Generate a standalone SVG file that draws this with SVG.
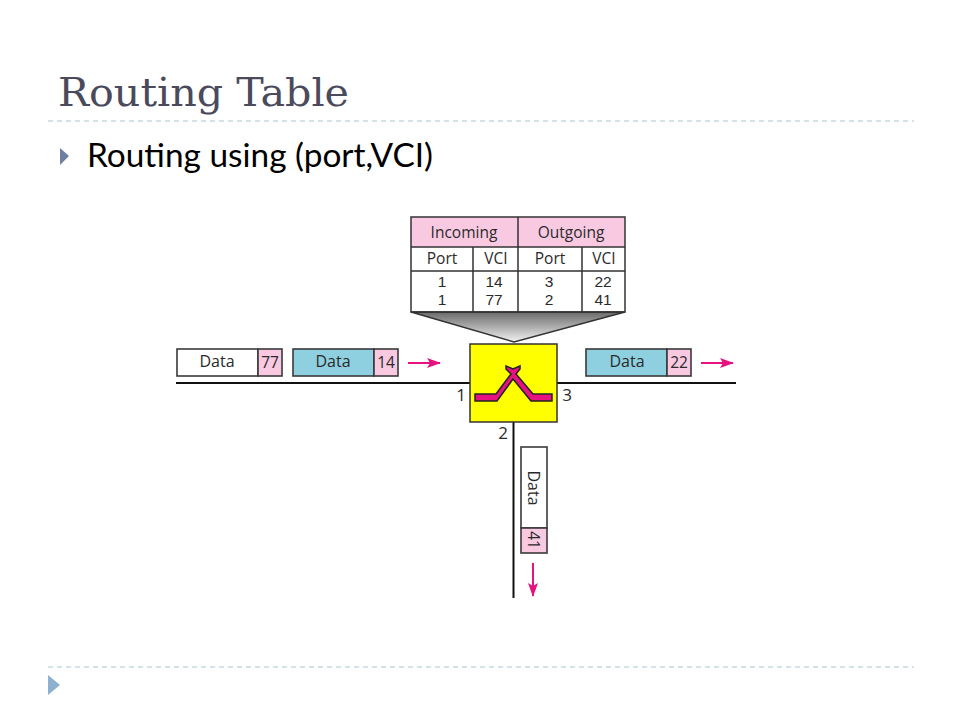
<svg xmlns="http://www.w3.org/2000/svg" width="960" height="720" viewBox="0 0 960 720">
<defs>
<linearGradient id="fade" x1="0" y1="0" x2="0" y2="1"><stop offset="0" stop-color="#6a6a6a"/><stop offset="1" stop-color="#f2f2f2"/></linearGradient>
<marker id="ah" markerUnits="userSpaceOnUse" markerWidth="14" markerHeight="10" refX="13" refY="5" orient="auto"><path d="M0 0 L14 5 L0 10 L3 5 Z" fill="#e6127f"/></marker>
</defs>
<style>
text{font-family:"Open Sans","Liberation Sans",sans-serif;fill:#2a2a2a}
.d{font-size:16px;text-anchor:middle}
.t{font-size:15.500px;text-anchor:middle}
.v{font-family:"Liberation Sans",sans-serif;font-size:15.500px;text-anchor:middle}
.n{font-size:17px;text-anchor:middle}
.box{stroke:#3a3a3a;stroke-width:1.6}
.w{fill:#fff}.p{fill:#f9c9e2}.b{fill:#8fd0e0}
.rule{stroke:#a9c3cf;stroke-width:1;stroke-dasharray:5 4;fill:none}
.wire{stroke:#111;stroke-width:2;fill:none}
.arr{stroke:#e6127f;stroke-width:2;fill:none;marker-end:url(#ah)}
.tl{stroke:#333;stroke-width:1.5;fill:none}
</style>
<rect width="960" height="720" fill="#fff"/>
<g id="slide">
<text x="58" y="106" style="font-family:'DejaVu Serif','Liberation Serif',serif;font-size:40px;fill:#4a4a5c" textLength="291" lengthAdjust="spacingAndGlyphs">Routing Table</text>
<line class="rule" x1="48" y1="121" x2="914" y2="121"/>
<path d="M60 148 L69 156 L60 165 Z" fill="#6d7fa3"/>
<text x="87" y="167" style="font-family:Lato,'Open Sans',sans-serif;font-size:33px;fill:#000" textLength="346" lengthAdjust="spacingAndGlyphs">Routing using (port,VCI)</text>
<line class="rule" x1="48" y1="667" x2="914" y2="667"/>
<path d="M48 675 L60 685 L48 695 Z" fill="#8fb0cf"/>
</g>
<g id="connectors">
<line class="wire" x1="176" y1="383" x2="470" y2="383"/>
<line class="wire" x1="557" y1="383" x2="736" y2="383"/>
<line class="wire" x1="513.500" y1="422" x2="513.500" y2="598"/>
<line class="arr" x1="408" y1="363" x2="440" y2="363"/>
<line class="arr" x1="701" y1="363" x2="733" y2="363"/>
<line class="arr" x1="533" y1="563" x2="533" y2="596"/>
</g>
<g id="routing-table">
<rect x="411" y="217" width="107" height="30" class="p"/>
<rect x="518" y="217" width="107" height="30" class="p"/>
<path d="M411 312 L625 312 L514 342 Z" fill="url(#fade)" stroke="#333" stroke-width="1.5"/>
<rect x="411" y="217" width="214" height="95" class="tl"/>
<path class="tl" d="M411 247 H625 M411 271 H625 M518 217 V312 M473 247 V312 M582 247 V312"/>
<text class="t" x="464" y="238">Incoming</text>
<text class="t" x="571" y="238">Outgoing</text>
<text class="t" x="442" y="264">Port</text>
<text class="t" x="496" y="264">VCI</text>
<text class="t" x="550" y="264">Port</text>
<text class="t" x="604" y="264">VCI</text>
<text class="v" x="442" y="287">1</text><text class="v" x="494" y="287">14</text><text class="v" x="549" y="287">3</text><text class="v" x="603" y="287">22</text>
<text class="v" x="442" y="305">1</text><text class="v" x="494" y="305">77</text><text class="v" x="549" y="305">2</text><text class="v" x="603" y="305">41</text>
</g>
<g id="switch">
<rect x="470" y="344" width="87" height="78" fill="#ffff00" stroke="#333" stroke-width="1.5"/>
<path d="M475 394 H496 L511 374 L506 369 L506 366 L513 369 L520 366 L520 369 L516 374 L533 394 H552 V401 H531 L513 379 L497 401 H475 Z" fill="#e6127f" stroke="#222" stroke-width="1.5"/>
<text class="n" x="461" y="401">1</text>
<text class="n" x="567" y="401">3</text>
<text class="n" x="503" y="439">2</text>
</g>
<g id="packet-77">
<rect x="177" y="349" width="81" height="27" class="box w"/>
<rect x="258" y="349" width="24" height="27" class="box p"/>
<text class="d" x="217" y="367">Data</text><text class="t" x="270" y="368">77</text>
</g>
<g id="packet-14">
<rect x="293" y="349" width="81" height="27" class="box b"/>
<rect x="374" y="349" width="24" height="27" class="box p"/>
<text class="d" x="333" y="367">Data</text><text class="t" x="386" y="368">14</text>
</g>
<g id="packet-22">
<rect x="586" y="349" width="81" height="27" class="box b"/>
<rect x="667" y="349" width="24" height="27" class="box p"/>
<text class="d" x="627" y="367">Data</text><text class="t" x="679" y="368">22</text>
</g>
<g id="packet-41">
<rect x="521" y="447" width="26" height="81" class="box w"/>
<rect x="521" y="528" width="26" height="25" class="box p"/>
<text class="d" transform="translate(528 488) rotate(90)">Data</text>
<text class="t" transform="translate(528 540) rotate(90)">41</text>
</g>
</svg>
